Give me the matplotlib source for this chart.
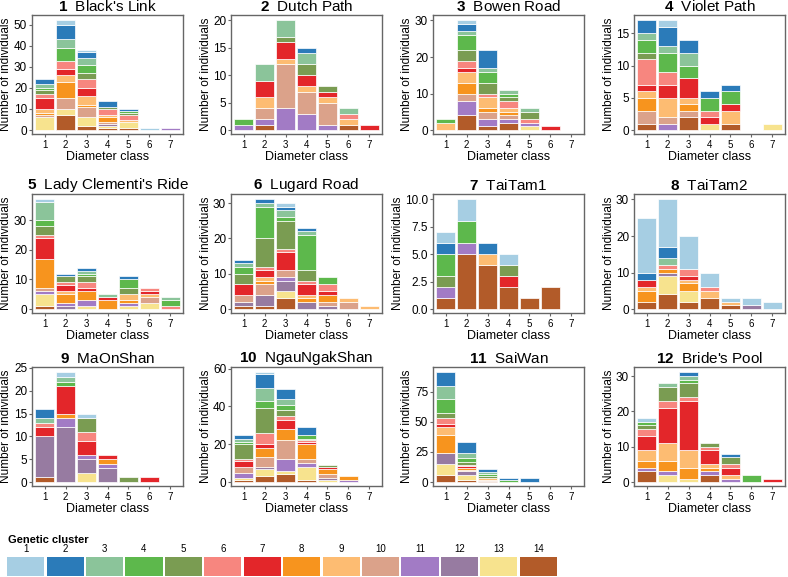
import matplotlib.pyplot as plt

plt.rcParams['font.family'] = ['Liberation Sans', 'DejaVu Sans']
plt.rcParams['mathtext.fontset'] = 'custom'
plt.rcParams['mathtext.bf'] = 'Liberation Sans:bold'
plt.rcParams['mathtext.rm'] = 'Liberation Sans'

CLASSES = [1, 2, 3, 4, 5, 6, 7]
CLUSTERS = list(range(1, 15))
# order of the stacked segments, bottom to top
STACK_ORDER = [14, 13, 12, 11, 10, 8, 9, 7, 6, 5, 4, 3, 2, 1]
COLORS = ['#a6cee3', '#2b7bb9', '#8bc49a', '#5db84c', '#7a9c52', '#f7867f', '#e3262a',
          '#f7941e', '#fdbc72', '#dba28a', '#a27bc5', '#977ba1', '#f7e38e', '#b25b29']

SITES = ["Black's Link", "Dutch Path", "Bowen Road", "Violet Path",
         "Lady Clementi's Ride", "Lugard Road", "TaiTam1", "TaiTam2",
         "MaOnShan", "NgauNgakShan", "SaiWan", "Bride's Pool"]

# one dict per diameter class: {cluster: number of individuals}
BLACKS_LINK = [
    {13: 6, 10: 1, 8: 1, 9: 2, 7: 5, 6: 2, 5: 2, 4: 1, 3: 2, 2: 2},
    {14: 7, 13: 3, 10: 5, 8: 8, 9: 3, 7: 3, 6: 4, 4: 6, 3: 4, 2: 7, 1: 2},
    {14: 2, 13: 4, 10: 5, 8: 1, 9: 4, 7: 4, 6: 4, 5: 3, 4: 4, 3: 3, 2: 3, 1: 1},
    {14: 1, 13: 1, 12: 1, 10: 1, 8: 2, 9: 1, 6: 3, 5: 1, 2: 3},
    {14: 1, 13: 3, 9: 1, 6: 2, 5: 1, 4: 1, 2: 1},
    {1: 1},
    {11: 1},
]
DUTCH_PATH = [
    {11: 1, 4: 1},
    {14: 1, 11: 1, 10: 2, 9: 2, 7: 3, 3: 3},
    {11: 4, 10: 8, 9: 1, 7: 3, 5: 1, 3: 3},
    {11: 3, 10: 4, 9: 1, 7: 2, 5: 2, 3: 2, 2: 1},
    {11: 1, 10: 4, 9: 1, 7: 1, 5: 1},
    {14: 1, 9: 1, 6: 1, 3: 1},
    {7: 1},
]
BOWEN_ROAD = [
    {9: 2, 4: 1},
    {14: 4, 11: 4, 10: 2, 8: 3, 9: 3, 7: 1, 6: 2, 5: 3, 4: 4, 3: 1, 2: 2, 1: 1},
    {14: 1, 11: 2, 10: 2, 8: 1, 9: 3, 6: 1, 5: 3, 4: 3, 3: 1, 2: 5},
    {14: 2, 11: 1, 10: 1, 8: 1, 9: 1, 6: 2, 5: 1, 4: 1, 3: 1},
    {13: 1, 11: 1, 6: 1, 5: 2, 3: 1},
    {7: 1},
    {},
]
VIOLET_PATH = [
    {14: 1, 10: 2, 8: 2, 9: 1, 7: 1, 6: 4, 5: 1, 4: 2, 3: 1, 2: 2},
    {11: 1, 10: 1, 9: 3, 7: 2, 6: 2, 4: 3, 3: 1, 2: 3, 1: 1},
    {14: 2, 10: 1, 8: 1, 9: 1, 7: 3, 4: 2, 3: 2, 2: 2},
    {13: 1, 7: 1, 6: 1, 4: 2, 2: 1},
    {14: 1, 9: 2, 7: 1, 4: 2, 2: 1},
    {},
    {13: 1},
]
LADY_CLEMENTI = [
    {14: 1, 13: 4, 11: 1, 10: 1, 8: 10, 7: 7, 6: 1, 5: 3, 4: 2, 3: 6, 1: 1},
    {12: 1, 11: 1, 8: 3, 9: 1, 7: 2, 6: 1, 5: 2, 2: 1},
    {13: 1, 11: 2, 8: 3, 7: 1, 6: 2, 5: 2, 4: 1, 3: 1, 2: 1},
    {8: 3, 7: 1, 3: 1},
    {13: 1, 11: 1, 8: 1, 9: 2, 5: 2, 4: 3, 2: 1},
    {13: 2, 10: 2, 9: 1, 7: 1, 6: 1},
    {6: 1, 4: 2, 3: 1},
]
LUGARD_ROAD = [
    {14: 1, 12: 1, 10: 2, 7: 3, 5: 3, 4: 2, 3: 1, 2: 1},
    {14: 1, 12: 3, 10: 3, 8: 1, 9: 1, 7: 2, 6: 1, 5: 8, 4: 9, 3: 1, 2: 1},
    {14: 3, 13: 2, 12: 3, 11: 1, 10: 2, 7: 5, 6: 1, 5: 8, 4: 1, 3: 2, 2: 1, 1: 1},
    {12: 2, 8: 1, 9: 1, 7: 3, 6: 1, 5: 3, 4: 10, 3: 1, 2: 1},
    {12: 1, 10: 1, 8: 2, 7: 1, 6: 2, 4: 2},
    {10: 2, 9: 1},
    {9: 1},
]
TAITAM1 = [
    {14: 1, 11: 1, 5: 1, 4: 2, 2: 1, 1: 1},
    {14: 5, 11: 1, 4: 2, 1: 2},
    {14: 4, 9: 1, 2: 1},
    {14: 2, 7: 1, 5: 1, 1: 1},
    {14: 1},
    {14: 2},
    {},
]
TAITAM2 = [
    {14: 2, 8: 3, 9: 1, 7: 2, 2: 2, 1: 15},
    {14: 4, 13: 5, 12: 1, 8: 1, 6: 1, 3: 2, 2: 3, 1: 13},
    {14: 2, 13: 3, 8: 2, 9: 1, 7: 1, 6: 2, 1: 9},
    {14: 3, 9: 2, 6: 1, 1: 4},
    {14: 1, 9: 1, 1: 1},
    {12: 1, 1: 2},
    {1: 2},
]
MAONSHAN = [
    {14: 1, 12: 9, 7: 2, 6: 1, 3: 1, 2: 2},
    {12: 12, 11: 2, 8: 1, 7: 6, 4: 1, 3: 1, 1: 1},
    {13: 2, 12: 3, 11: 1, 7: 3, 6: 2, 5: 3, 1: 1},
    {12: 3, 11: 1, 8: 1, 7: 1},
    {5: 1},
    {7: 1},
    {},
]
NGAUNGAKSHAN = [
    {14: 1, 13: 1, 11: 3, 10: 3, 7: 3, 6: 1, 5: 8, 4: 1, 3: 2, 2: 2},
    {14: 3, 13: 4, 12: 1, 10: 5, 8: 5, 7: 2, 6: 6, 5: 13, 4: 4, 3: 7, 2: 7, 1: 1},
    {14: 4, 13: 2, 11: 6, 10: 10, 8: 6, 7: 5, 6: 2, 5: 3, 4: 3, 3: 3, 2: 5},
    {14: 1, 13: 7, 11: 2, 10: 2, 8: 8, 7: 1, 6: 1, 5: 1, 4: 2, 2: 4},
    {13: 1, 12: 1, 10: 2, 8: 3, 7: 1, 5: 1},
    {11: 1, 8: 2},
    {},
]
SAIWAN = [
    {14: 6, 13: 9, 12: 9, 8: 15, 9: 7, 7: 2, 6: 5, 5: 4, 4: 12, 3: 11, 2: 11},
    {14: 2, 13: 4, 12: 3, 10: 1, 8: 2, 7: 1, 6: 1, 5: 3, 4: 3, 3: 4, 2: 9},
    {14: 1, 10: 1, 9: 1, 5: 2, 4: 2, 3: 1, 2: 3},
    {4: 2, 2: 1},
    {2: 3},
    {},
    {},
]
BRIDES_POOL = [
    {14: 3, 11: 1, 8: 2, 9: 3, 7: 4, 6: 2, 5: 1, 4: 1, 1: 1},
    {13: 2, 11: 1, 8: 3, 9: 5, 7: 10, 6: 2, 5: 4, 3: 1},
    {13: 1, 8: 3, 9: 5, 7: 14, 6: 1, 5: 4, 4: 1, 3: 1, 2: 1},
    {14: 2, 11: 1, 8: 1, 9: 1, 7: 4, 6: 1, 5: 1},
    {11: 1, 9: 1, 7: 2, 6: 1, 5: 2, 2: 1},
    {4: 2},
    {7: 1},
]
SITE_BARS = [BLACKS_LINK, DUTCH_PATH, BOWEN_ROAD, VIOLET_PATH, LADY_CLEMENTI, LUGARD_ROAD,
             TAITAM1, TAITAM2, MAONSHAN, NGAUNGAKSHAN, SAIWAN, BRIDES_POOL]
YTICKS = [[0, 10, 20, 30, 40, 50], [0, 5, 10, 15, 20], [0, 10, 20, 30], [0, 5, 10, 15],
          [0, 10, 20, 30], [0, 10, 20, 30], [0, 2.5, 5, 7.5, 10], [0, 10, 20, 30],
          [0, 5, 10, 15, 20, 25], [0, 20, 40, 60], [0, 25, 50, 75], [0, 10, 20, 30]]

W, H = 788, 577
fig = plt.figure(figsize=(W / 100, H / 100), dpi=100)

lefts = [32, 231, 433, 634]
tops = [15, 194, 367]
aw, ah = 151, 119
frame = '#666666'

for i, (name, bars, yt) in enumerate(zip(SITES, SITE_BARS, YTICKS)):
    r, c = divmod(i, 4)
    ax = fig.add_axes([lefts[c] / W, (H - tops[r] - ah) / H, aw / W, ah / H])
    bottom = [0] * len(CLASSES)
    for cl in STACK_ORDER:
        vals = [b.get(cl, 0) for b in bars]
        xs = [x for x, v in zip(CLASSES, vals) if v > 0]
        hs = [v for v in vals if v > 0]
        bs = [b for b, v in zip(bottom, vals) if v > 0]
        if xs:
            ax.bar(xs, hs, bottom=bs, width=0.92, color=COLORS[cl - 1],
                   edgecolor='white', linewidth=0.5)
        bottom = [b + v for b, v in zip(bottom, vals)]
    top = max(bottom)
    ax.set_ylim(-0.036 * top, 1.05 * top)
    ax.set_xlim(0.4, 7.6)
    ax.set_xticks(CLASSES)
    ax.set_yticks(yt)
    ax.tick_params(axis='x', labelsize=7, length=2, color=frame, pad=2)
    ax.tick_params(axis='y', labelsize=8.5, length=2, color=frame, pad=1.5)
    for s in ax.spines.values():
        s.set_color(frame)
        s.set_linewidth(1.0)
    ax.set_xlabel('Diameter class', fontsize=9, labelpad=1)
    ax.set_ylabel('Number of individuals', fontsize=8.5, labelpad=1)
    ax.set_title(r'$\bf{%d}$  %s' % (i + 1, name), fontsize=11, pad=3)

# legend of genetic clusters
fig.text(8 / W, 1 - 540 / H, 'Genetic cluster', fontsize=8, fontweight='bold', va='center')
lax = fig.add_axes([6 / W, 1 / H, 552 / W, 19 / H])
lax.bar(CLUSTERS, [1] * len(CLUSTERS), width=0.94, color=COLORS)
lax.set_xlim(0.5, 14.5)
lax.set_ylim(0, 1)
lax.xaxis.tick_top()
lax.set_xticks(CLUSTERS)
lax.tick_params(axis='x', length=0, labelsize=7, pad=2)
lax.set_yticks([])
for s in lax.spines.values():
    s.set_visible(False)

fig.savefig('out.png', dpi=100)
